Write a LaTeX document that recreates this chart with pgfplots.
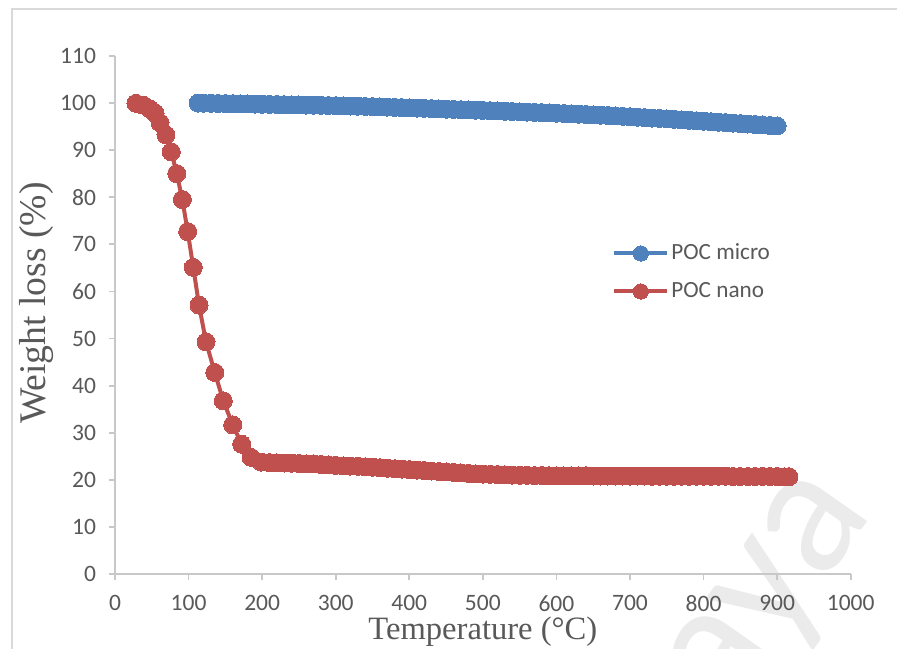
\documentclass[border=0pt]{standalone}
\usepackage{pgfplots}
\pgfplotsset{compat=1.18}
\usepackage{fontspec}
\setmainfont{Carlito}
\newfontfamily\serifttl{Liberation Serif}
\definecolor{micro}{HTML}{4F81BD}
\definecolor{nano}{HTML}{C0504D}
\definecolor{txt}{HTML}{595959}
\definecolor{axl}{HTML}{C8C8C8}
\definecolor{frm}{HTML}{D9D9D9}
\definecolor{wmk}{HTML}{EBEBEB}

% POC micro (blue)
\pgfplotstableread{
T w
113 99.95
120 99.93
130 99.90
140 99.87
150 99.85
160 99.82
170 99.79
180 99.76
190 99.73
200 99.70
210 99.67
220 99.64
230 99.61
240 99.58
250 99.55
260 99.52
270 99.49
280 99.46
290 99.43
300 99.40
310 99.36
320 99.32
330 99.28
340 99.24
350 99.20
360 99.15
370 99.10
380 99.04
390 98.99
400 98.95
410 98.89
420 98.83
430 98.77
440 98.71
450 98.65
460 98.60
470 98.55
480 98.50
490 98.45
500 98.40
510 98.34
520 98.28
530 98.22
540 98.16
550 98.10
560 98.04
570 97.98
580 97.92
590 97.86
600 97.80
610 97.73
620 97.67
630 97.60
640 97.53
650 97.46
660 97.39
670 97.31
680 97.22
690 97.14
700 97.05
710 96.96
720 96.87
730 96.78
740 96.69
750 96.60
760 96.50
770 96.40
780 96.30
790 96.20
800 96.10
810 96.00
820 95.90
830 95.80
840 95.70
850 95.60
860 95.50
870 95.40
880 95.30
890 95.20
900 95.10
}\microdata

% POC nano (red)
\pgfplotstableread{
T w
28.5 99.9
38.1 99.5
47.6 98.7
54.4 97.8
61.2 95.8
69.3 93.2
76.5 89.6
83.9 85.0
91.5 79.5
98.8 72.7
106.4 65.1
114.2 57.1
123.7 49.3
135.6 42.8
147.2 36.8
160.0 31.7
172.2 27.6
185.0 24.8
198.9 23.8
210 23.7
220 23.65
230 23.6
240 23.55
250 23.5
260 23.45
270 23.4
280 23.3
290 23.2
300 23.1
310 23.0
320 22.95
330 22.9
340 22.8
350 22.7
360 22.6
370 22.5
380 22.4
390 22.3
400 22.2
410 22.1
420 22.0
430 21.9
440 21.8
450 21.7
460 21.6
470 21.5
480 21.4
490 21.3
500 21.25
510 21.2
520 21.15
530 21.1
540 21.05
550 21.0
560 21.0
570 20.95
580 20.95
590 20.9
600 20.9
610 20.9
620 20.9
630 20.9
640 20.9
650 20.85
660 20.85
670 20.85
680 20.85
690 20.85
700 20.85
710 20.85
720 20.85
730 20.8
740 20.8
750 20.8
760 20.8
770 20.8
780 20.8
790 20.8
800 20.8
810 20.8
820 20.8
830 20.8
840 20.75
850 20.75
860 20.75
870 20.75
880 20.75
890 20.75
900 20.75
910 20.7
916 20.7
}\nanodata

\begin{document}
\begin{tikzpicture}
\useasboundingbox (0,0) rectangle (448.5pt,324pt);
\clip (0,0) rectangle (448.5pt,324pt);
\fill[white] (0,0) rectangle (448.5pt,324pt);
% frame of the chart area
\draw[frm, line width=0.8pt] (6pt,-5pt) -- (6pt,319.5pt) -- (460pt,319.5pt);
% watermark
\node[rotate=55, text=wmk, font=\fontsize{92}{92}\selectfont, anchor=base east, inner sep=0pt]
  at (437pt,68pt) {Malaya};
\begin{axis}[
    at={(57.5pt,36.85pt)}, anchor=south west,
    scale only axis,
    width=367.85pt, height=259.3pt,
    xmin=0, xmax=1000, ymin=0, ymax=110,
    xtick={0,100,...,1000},
    ytick={0,10,...,110},
    axis x line*=bottom, axis y line*=left,
    axis line style={axl, line width=0.9pt},
    every tick/.style={axl, line width=0.9pt},
    tick align=outside,
    major tick length=3pt,
    tick label style={font=\fontsize{11.75}{14}\selectfont, text=txt},
    /pgf/number format/assume math mode=true,
    /pgf/number format/1000 sep={},
    yticklabel style={xshift=-3pt},
    xticklabel style={yshift=-4pt},
    xlabel={Temperature (°C)},
    ylabel={Weight loss (\%)},
    x label style={font=\serifttl\fontsize{16.3}{18}\selectfont, text=txt,
        at={(axis description cs:0.5,-0.11)}, anchor=center},
    y label style={font=\serifttl\fontsize{18.8}{20}\selectfont, text=txt,
        at={(axis description cs:-0.107,0.523)}, anchor=center, rotate=0},
    legend style={at={(axis description cs:0.6755,0.582)}, anchor=west,
        draw=none, fill=none, inner sep=0pt, row sep=9pt,
        font=\fontsize{11.6}{14}\selectfont, text=txt,
        nodes={inner sep=0pt, text height=8pt, text depth=2pt, anchor=west}},
    legend cell align=left,
    legend image code/.code={
        \draw[#1, mark repeat=2, mark phase=2, mark size=3.8pt]
          plot coordinates {(0pt,0pt) (13.25pt,0pt) (26.5pt,0pt)};
        \path (27.5pt,0pt);
    },
    clip=false,
]
\addplot[micro, line width=2pt, line join=round, mark=*, mark size=4.5pt,
    mark options={fill=micro, draw=micro, line width=0pt}] table[x=T, y=w] {\microdata};
\addlegendentry{POC micro}
\addplot[nano, line width=2pt, line join=round, mark=*, mark size=4.5pt,
    mark options={fill=nano, draw=nano, line width=0pt}] table[x=T, y=w] {\nanodata};
\addlegendentry{POC nano}
\end{axis}
\end{tikzpicture}
\end{document}
